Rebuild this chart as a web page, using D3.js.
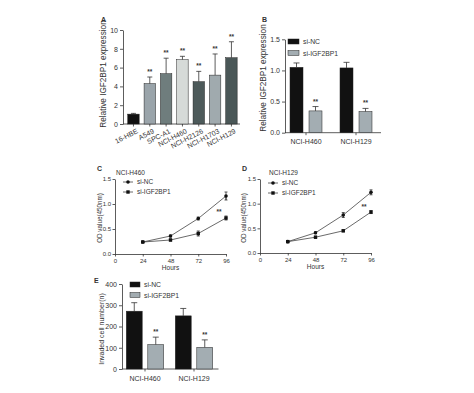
<!DOCTYPE html>
<html lang="en">
<head>
<meta charset="utf-8">
<script src="https://cdn.jsdelivr.net/npm/d3@7"></script>
<style>
  body { margin: 0; background: #fff; }
  svg { display: block; font-family: "Liberation Sans", Arial, sans-serif; }
  .axis path, .axis line { stroke: #333; stroke-width: 0.8; }
  .axis text { font-size: 7px; fill: #333; }
  .small text { font-size: 6px; }
</style>
</head>
<body>
<script>
// panel A
const cellLines = ['16-HBE', 'A549', 'SPC-A1', 'NCI-H460', 'NCI-H2126', 'NCI-H1703', 'NCI-H129']
const exprA = [1.05, 4.3, 5.35, 6.85, 4.5, 5.2, 7.05]
const exprAErr = [0.08, 0.7, 1.65, 0.35, 1.1, 2.25, 1.7]
const colorsA = ['#111', '#9aa4aa', '#6f7d7d', '#d6dad8', '#4d5a5a', '#a0aaae', '#4a5757']

// groups / series for B and E
const groups = ['NCI-H460', 'NCI-H129']
const series = ['si-NC', 'si-IGF2BP1']
const exprB = { 'si-NC': [1.05, 1.04], 'si-IGF2BP1': [0.35, 0.34] }
const exprBErr = { 'si-NC': [0.07, 0.09], 'si-IGF2BP1': [0.07, 0.05] }
const invaded = { 'si-NC': [272, 250], 'si-IGF2BP1': [115, 102] }
const invadedErr = { 'si-NC': [40, 35], 'si-IGF2BP1': [35, 35] }

// growth curves C, D
const hours = [24, 48, 72, 96]
const odH460 = { 'si-NC': [0.24, 0.36, 0.71, 1.16], 'si-IGF2BP1': [0.24, 0.28, 0.41, 0.72] }
const odH460Err = { 'si-NC': [0.01, 0.02, 0.03, 0.08], 'si-IGF2BP1': [0.01, 0.02, 0.05, 0.04] }
const odH129 = { 'si-NC': [0.23, 0.41, 0.77, 1.23], 'si-IGF2BP1': [0.23, 0.32, 0.45, 0.83] }
const odH129Err = { 'si-NC': [0.01, 0.02, 0.05, 0.05], 'si-IGF2BP1': [0.01, 0.02, 0.02, 0.03] }

const seriesFill = { 'si-NC': '#111', 'si-IGF2BP1': '#a3adb2' }
const ink = '#333'

const svg = d3.select('body').append('svg')
    .attr('width', 474)
    .attr('height', 393)

function panelLetter(t, x, y) {
    svg.append('text').attr('x', x).attr('y', y)
        .attr('font-size', 7).attr('font-weight', 'bold').attr('fill', ink).text(t)
}

function yTitle(t, x, y, size) {
    svg.append('text')
        .attr('transform', 'translate(' + x + ',' + y + ') rotate(-90)')
        .attr('text-anchor', 'middle').attr('font-size', size).attr('fill', ink).text(t)
}

function errBar(g, x, y1, y2, cap) {
    g.append('line').attr('x1', x).attr('x2', x).attr('y1', y1).attr('y2', y2)
        .attr('stroke', ink).attr('stroke-width', 0.8)
    g.append('line').attr('x1', x - cap).attr('x2', x + cap).attr('y1', y2).attr('y2', y2)
        .attr('stroke', ink).attr('stroke-width', 0.8)
}

function stars(x, y) {
    svg.append('text').attr('x', x).attr('y', y).attr('text-anchor', 'middle')
        .attr('font-size', 6.5).attr('font-weight', 'bold').attr('fill', ink).text('**')
}

// ---------- A ----------
panelLetter('A', 101, 22)
let xA = d3.scaleBand().domain(cellLines).range([125.3, 239.6]).paddingInner(0.3).paddingOuter(0.15)
let yA = d3.scaleLinear().domain([0, 10]).range([124, 30])

svg.append('g').attr('class', 'axis').attr('transform', 'translate(123,0)')
    .call(d3.axisLeft(yA).ticks(5).tickSize(3).tickPadding(2).tickSizeOuter(0))
let gxA = svg.append('g').attr('class', 'axis').attr('transform', 'translate(0,124)')
gxA.append('line').attr('x1', 123).attr('x2', 240)
xA.domain().forEach(function(d) {
    let cx = xA(d) + xA.bandwidth() / 2
    gxA.append('line').attr('x1', cx).attr('x2', cx).attr('y1', 0).attr('y2', 2.5)
    gxA.append('text').attr('transform', 'translate(' + (cx + 3) + ',5) rotate(-27)')
        .attr('text-anchor', 'end').attr('dy', '0.6em').attr('font-size', 7.5).text(d)
})

let gA = svg.append('g')
cellLines.forEach(function(d, i) {
    let x = xA(d), w = xA.bandwidth()
    gA.append('rect').attr('x', x).attr('y', yA(exprA[i]))
        .attr('width', w).attr('height', yA(0) - yA(exprA[i]))
        .attr('fill', colorsA[i]).attr('stroke', '#222').attr('stroke-width', 0.5)
    errBar(gA, x + w / 2, yA(exprA[i]), yA(exprA[i] + exprAErr[i]), 2.5)
    if (i > 0) stars(x + w / 2, yA(exprA[i] + exprAErr[i]) - 3)
})
yTitle('Relative IGF2BP1 expression', 106, 74, 8.2)

// ---------- grouped bars ----------
function groupedBars(opts) {
    let xO = d3.scaleBand().domain(groups).range(opts.xr)
    let y = d3.scaleLinear().domain(opts.ydom).range(opts.yr)
    svg.append('g').attr('class', 'axis').attr('transform', 'translate(' + opts.xr0 + ',0)')
        .call(d3.axisLeft(y).tickValues(opts.ticks).tickFormat(opts.fmt)
            .tickSize(3).tickPadding(2).tickSizeOuter(0))
        .selectAll('text').attr('font-size', opts.tickFont)
    let gx = svg.append('g').attr('class', 'axis').attr('transform', 'translate(0,' + opts.yr[0] + ')')
    gx.append('line').attr('x1', opts.xr0).attr('x2', opts.xr[1])
    let g = svg.append('g')
    groups.forEach(function(grp, gi) {
        let c = xO(grp) + xO.bandwidth() / 2
        gx.append('line').attr('x1', c).attr('x2', c).attr('y1', 0).attr('y2', 2.5)
        gx.append('text').attr('x', c).attr('y', 11.5).attr('text-anchor', 'middle')
            .attr('font-size', 7.5).text(grp)
        let xI = d3.scaleBand().domain(series).range([c - opts.half, c + opts.half])
            .paddingInner(opts.pad).paddingOuter(opts.pad / 2)
        series.forEach(function(s) {
            let v = opts.vals[s][gi], e = opts.errs[s][gi]
            let x = xI(s), w = xI.bandwidth()
            g.append('rect').attr('x', x).attr('y', y(v)).attr('width', w)
                .attr('height', y(0) - y(v)).attr('fill', seriesFill[s])
                .attr('stroke', '#222').attr('stroke-width', 0.5)
            errBar(g, x + w / 2, y(v), y(v + e), 3)
            if (s === 'si-IGF2BP1') stars(x + w / 2, y(v + e) - 3)
        })
    })
    // legend
    series.forEach(function(s, i) {
        let ly = opts.leg[1] + i * opts.legStep
        svg.append('rect').attr('x', opts.leg[0]).attr('y', ly).attr('width', opts.legW).attr('height', 5)
            .attr('fill', seriesFill[s]).attr('stroke', '#222').attr('stroke-width', 0.5)
        svg.append('text').attr('x', opts.leg[0] + opts.legW + 4).attr('y', ly + 5)
            .attr('font-size', 6.8).attr('fill', ink).text(s)
    })
}

panelLetter('B', 262, 22)
groupedBars({
    xr0: 285, xr: [281, 381], ydom: [0, 1.5], yr: [132.7, 39.3],
    ticks: [0, 0.5, 1, 1.5], fmt: d3.format('.1f'), tickFont: 7,
    vals: exprB, errs: exprBErr, half: 19, pad: 0.316,
    leg: [288, 39], legStep: 11.5, legW: 11
})
yTitle('Relative IGF2BP1 expression', 266, 78, 8.2)

panelLetter('E', 94, 283)
groupedBars({
    xr0: 122, xr: [120.5, 218.5], ydom: [0, 400], yr: [369, 284],
    ticks: [0, 100, 200, 300, 400], fmt: d3.format('d'), tickFont: 6.5,
    vals: invaded, errs: invadedErr, half: 21.5, pad: 0.26,
    leg: [130, 282], legStep: 10.5, legW: 10
})
yTitle('Invaded cell number(n)', 104, 329, 7)

// ---------- growth curves ----------
function growth(opts) {
    let x = d3.scaleLinear().domain([0, 96]).range(opts.xr)
    let y = d3.scaleLinear().domain([0, 1.5]).range(opts.yr)
    svg.append('g').attr('class', 'axis small').attr('transform', 'translate(' + opts.xr[0] + ',0)')
        .call(d3.axisLeft(y).tickValues([0, 0.5, 1, 1.5]).tickFormat(d3.format('.1f'))
            .tickSize(2.5).tickPadding(1.5).tickSizeOuter(0))
    svg.append('g').attr('class', 'axis small').attr('transform', 'translate(0,' + opts.yr[0] + ')')
        .call(d3.axisBottom(x).tickValues([0, 24, 48, 72, 96]).tickSize(2.5).tickPadding(2).tickSizeOuter(0))
    svg.append('text').attr('x', (opts.xr[0] + opts.xr[1]) / 2).attr('y', opts.yr[0] + 15.5)
        .attr('text-anchor', 'middle').attr('font-size', 6.5).attr('fill', ink).text('Hours')
    svg.append('text').attr('x', opts.title[0]).attr('y', opts.title[1])
        .attr('font-size', 6.5).attr('fill', ink).text(opts.titleText)

    let line = d3.line().x(function(d) { return x(d[0]) }).y(function(d) { return y(d[1]) })
    let g = svg.append('g')
    series.forEach(function(s) {
        let pts = hours.map(function(h, i) { return [h, opts.vals[s][i], opts.errs[s][i]] })
        g.append('path').datum(pts).attr('d', line).attr('fill', 'none')
            .attr('stroke', '#444').attr('stroke-width', 0.8)
        pts.forEach(function(p) {
            let cx = x(p[0])
            errBar(g, cx, y(p[1] - p[2]), y(p[1] + p[2]), 1.5)
            errBar(g, cx, y(p[1]), y(p[1] - p[2]), 1.5)
            marker(g, s, cx, y(p[1]))
        })
    })
    let last = hours.length - 1
    stars(x(96) - 7, y(opts.vals['si-IGF2BP1'][last] + opts.errs['si-IGF2BP1'][last]) - 2)

    series.forEach(function(s, i) {
        let ly = opts.leg[1] + i * 10
        g.append('line').attr('x1', opts.leg[0]).attr('x2', opts.leg[0] + 10)
            .attr('y1', ly).attr('y2', ly).attr('stroke', '#444').attr('stroke-width', 0.8)
        marker(g, s, opts.leg[0] + 5, ly)
        svg.append('text').attr('x', opts.leg[0] + 14).attr('y', ly + 2.3)
            .attr('font-size', 6.5).attr('fill', ink).text(s)
    })
}

function marker(g, s, cx, cy) {
    if (s === 'si-NC') {
        g.append('circle').attr('cx', cx).attr('cy', cy).attr('r', 1.8).attr('fill', '#111')
    } else {
        g.append('rect').attr('x', cx - 1.7).attr('y', cy - 1.7).attr('width', 3.4).attr('height', 3.4)
            .attr('fill', '#111')
    }
}

panelLetter('C', 97, 171)
growth({ xr: [115, 226], yr: [254, 179], vals: odH460, errs: odH460Err,
    title: [116, 174.5], titleText: 'NCI-H460', leg: [123, 182] })
yTitle('OD value(450nm)', 101.5, 218, 6.3)

panelLetter('D', 242, 171)
growth({ xr: [260, 371], yr: [253, 179], vals: odH129, errs: odH129Err,
    title: [269, 175], titleText: 'NCI-H129', leg: [268, 183] })
yTitle('OD value(450nm)', 246, 218, 6.3)
</script>
</body>
</html>
